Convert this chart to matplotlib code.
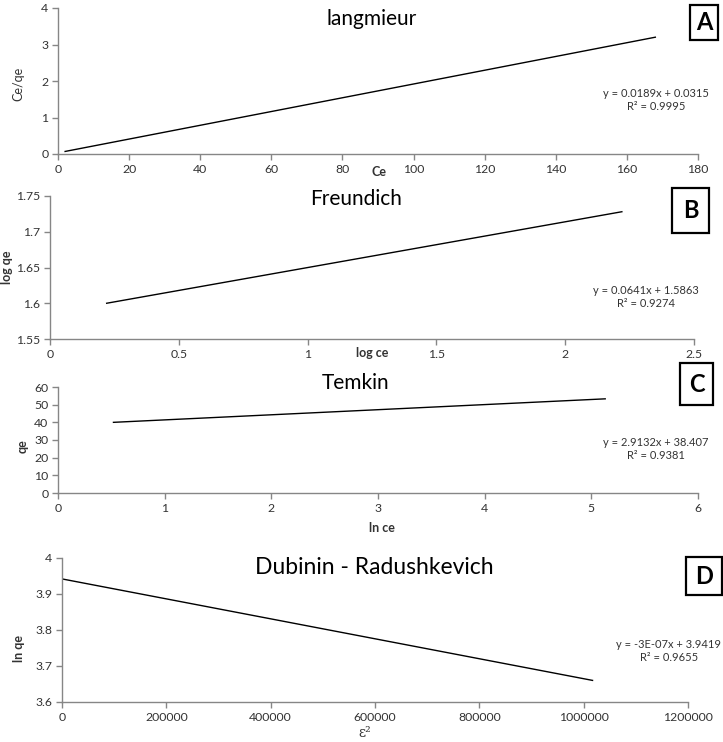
import matplotlib
matplotlib.use('Agg')
import matplotlib.pyplot as plt
from matplotlib.patches import Rectangle

plt.rcParams['font.family'] = ['Lato', 'DejaVu Sans']

W, H = 723, 742

# Isotherm fit lines (end points)
langmuir_ce = [2, 168]
langmuir_ceqe = [0.07, 3.2]

freundlich_logce = [0.22, 2.22]
freundlich_logqe = [1.600, 1.728]

temkin_lnce = [0.52, 5.13]
temkin_qe = [40.0, 53.3]

dr_eps2 = [0, 1017000]
dr_lnqe = [3.9419, 3.66]

panels = [
    dict(x=langmuir_ce, y=langmuir_ceqe, box=(58, 8, 698, 154),
         xlim=(0, 180), xticks=[0, 20, 40, 60, 80, 100, 120, 140, 160, 180],
         ylim=(0, 4), yticks=[0, 1, 2, 3, 4], ytl=['0', '1', '2', '3', '4'],
         title='langmieur', title_xy=(372, 19), tsize=15,
         xlabel='Ce', xlabel_xy=(379, 172), ylabel='Ce/qe', ylabel_xy=(18, 84), ybold=False,
         eq='y = 0.0189x + 0.0315\nR² = 0.9995', eq_xy=(656, 100),
         letter='A', letter_box=(690, 5, 718, 40)),
    dict(x=freundlich_logce, y=freundlich_logqe, box=(50, 196, 694, 339),
         xlim=(0, 2.5), xticks=[0, 0.5, 1, 1.5, 2, 2.5],
         ylim=(1.55, 1.75), yticks=[1.55, 1.6, 1.65, 1.7, 1.75],
         ytl=['1.55', '1.6', '1.65', '1.7', '1.75'],
         title='Freundich', title_xy=(356, 199), tsize=15,
         xlabel='log ce', xlabel_xy=(372, 353), ylabel='log qe', ylabel_xy=(7, 267), ybold=True,
         eq='y = 0.0641x + 1.5863\nR² = 0.9274', eq_xy=(646, 297),
         letter='B', letter_box=(672, 188, 709, 233)),
    dict(x=temkin_lnce, y=temkin_qe, box=(58, 387, 698, 493),
         xlim=(0, 6), xticks=[0, 1, 2, 3, 4, 5, 6],
         ylim=(0, 60), yticks=[0, 10, 20, 30, 40, 50, 60],
         ytl=['0', '10', '20', '30', '40', '50', '60'],
         title='Temkin', title_xy=(356, 383), tsize=15,
         xlabel='ln ce', xlabel_xy=(382, 528), ylabel='qe', ylabel_xy=(23, 446), ybold=True,
         eq='y = 2.9132x + 38.407\nR² = 0.9381', eq_xy=(656, 449),
         letter='C', letter_box=(680, 363, 713, 405)),
    dict(x=dr_eps2, y=dr_lnqe, box=(62, 558, 688, 702),
         xlim=(0, 1200000), xticks=[0, 200000, 400000, 600000, 800000, 1000000, 1200000],
         ylim=(3.6, 4.0), yticks=[3.6, 3.7, 3.8, 3.9, 4.0],
         ytl=['3.6', '3.7', '3.8', '3.9', '4'],
         title='Dubinin - Radushkevich', title_xy=(374, 568), tsize=16.5,
         xlabel='ε²', xlabel_xy=(365, 733), ylabel='ln qe', ylabel_xy=(19, 649), ybold=True,
         eq='y = -3E-07x + 3.9419\nR² = 0.9655', eq_xy=(669, 651),
         letter='D', letter_box=(686, 557, 722, 595)),
]

fig = plt.figure(figsize=(W / 100, H / 100), dpi=100)
axis_grey = '#868686'
text_col = '#333333'


def fx(px):
    return px / W


def fy(py):
    return 1 - py / H


for p in panels:
    l, t, r, b = p['box']
    ax = fig.add_axes([fx(l), fy(b), (r - l) / W, (b - t) / H])
    ax.plot(p['x'], p['y'], color='black', lw=1.0)
    ax.set_xlim(*p['xlim'])
    ax.set_ylim(*p['ylim'])
    ax.set_xticks(p['xticks'])
    ax.set_xticklabels([f'{v:g}' if v < 100000 else str(v) for v in p['xticks']])
    ax.set_yticks(p['yticks'])
    ax.set_yticklabels(p['ytl'])
    for s in ['top', 'right']:
        ax.spines[s].set_visible(False)
    for s in ['left', 'bottom']:
        ax.spines[s].set_color(axis_grey)
        ax.spines[s].set_linewidth(1.0)
    ax.tick_params(axis='both', colors=axis_grey, labelcolor=text_col,
                   labelsize=8.8, length=4, width=1.0, direction='out', pad=3)
    ax.patch.set_alpha(0)

    fig.text(fx(p['title_xy'][0]), fy(p['title_xy'][1]), p['title'],
             fontsize=p['tsize'], ha='center', va='center', color='black')
    if p['xlabel'] == 'ε²':
        fig.text(fx(p['xlabel_xy'][0]), fy(p['xlabel_xy'][1]), p['xlabel'],
                 fontsize=10, ha='center', va='center', color=text_col,
                 family=['DejaVu Serif'])
    else:
        fig.text(fx(p['xlabel_xy'][0]), fy(p['xlabel_xy'][1]), p['xlabel'],
                 fontsize=9, ha='center', va='center', color=text_col,
                 fontweight='bold')
    fig.text(fx(p['ylabel_xy'][0]), fy(p['ylabel_xy'][1]), p['ylabel'],
             fontsize=9, ha='center', va='center', rotation=90, color=text_col,
             fontweight='bold' if p['ybold'] else 'normal')
    fig.text(fx(p['eq_xy'][0]), fy(p['eq_xy'][1]), p['eq'],
             fontsize=8, ha='center', va='center', color=text_col,
             linespacing=1.3)

    bl, bt, br, bb = p['letter_box']
    fig.patches.append(Rectangle((fx(bl), fy(bb)), (br - bl) / W, (bb - bt) / H,
                                 transform=fig.transFigure, fill=False,
                                 edgecolor='black', lw=1.6))
    fig.text(fx((bl + br) / 2), fy((bt + bb) / 2), p['letter'],
             fontsize=17, fontweight='bold', ha='center', va='center', color='black')

fig.savefig('out.png', dpi=100)
